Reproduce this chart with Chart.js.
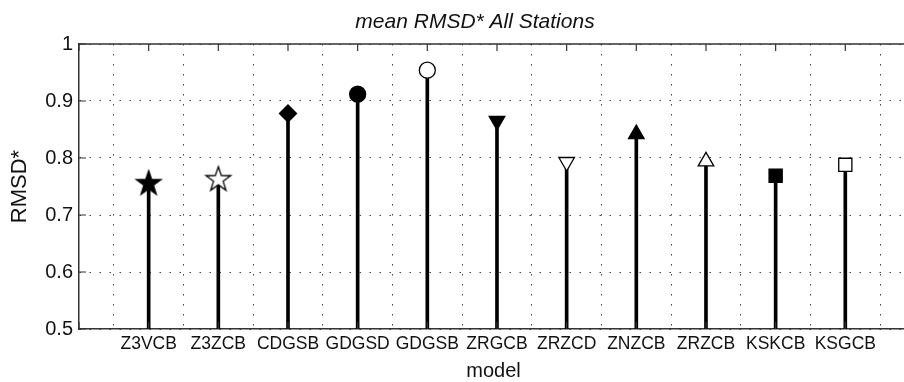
<!DOCTYPE html>
<html>
<head>
<meta charset="utf-8">
<script src="https://cdn.jsdelivr.net/npm/chart.js@4.4.1/dist/chart.umd.min.js"></script>
<style>
  html, body { margin: 0; padding: 0; overflow: hidden; background: #fff; }
  #wrap { width: 948px; height: 382px; }
</style>
</head>
<body>
<div id="wrap"><canvas id="rmsdChart"></canvas></div>
<script>
const models = ['Z3VCB', 'Z3ZCB', 'CDGSB', 'GDGSD', 'GDGSB', 'ZRGCB', 'ZRZCD', 'ZNZCB', 'ZRZCB', 'KSKCB', 'KSGCB'];
const rmsd = [0.755, 0.762, 0.878, 0.912, 0.954, 0.865, 0.793, 0.842, 0.794, 0.769, 0.788];
const yTicks = [0.5, 0.6, 0.7, 0.8, 0.9, 1];

// one marker per model: shape + filled/open
const markers = [
    ['star', true], ['star', false], ['diamond', true], ['circle', true], ['circle', false],
    ['down', true], ['down', false], ['up', true], ['up', false], ['square', true], ['square', false]
];

Chart.defaults.font.family = '"Liberation Sans", Arial, sans-serif';
Chart.defaults.color = '#111';

function makeStar(filled) {
    const R = 13, r = 5.1, size = 32;
    const c = document.createElement('canvas');
    c.width = c.height = size;
    const g = c.getContext('2d');
    g.beginPath();
    for (let k = 0; k < 10; k++) {
        const rad = k % 2 ? r : R;
        const a = -Math.PI / 2 + k * Math.PI / 5;
        const px = size / 2 + rad * Math.cos(a);
        const py = size / 2 + rad * Math.sin(a);
        if (k) g.lineTo(px, py); else g.moveTo(px, py);
    }
    g.closePath();
    g.fillStyle = filled ? '#000' : '#fff';
    g.fill();
    g.lineWidth = 1.3;
    g.strokeStyle = '#000';
    g.stroke();
    return c;
}

const starFilled = makeStar(true);
const starOpen = makeStar(false);

const shapeStyle = {
    star:    { style: null, radius: 13, rotation: 0 },
    diamond: { style: 'rectRot', radius: 8.5, rotation: 0 },
    circle:  { style: 'circle', radius: 8, rotation: 0 },
    down:    { style: 'triangle', radius: 9, rotation: 180 },
    up:      { style: 'triangle', radius: 9, rotation: 0 },
    square:  { style: 'rect', radius: 9.3, rotation: 0 }
};

const pointStyles = markers.map(([s, f]) => s === 'star' ? (f ? starFilled : starOpen) : shapeStyle[s].style);
const pointRadii = markers.map(([s]) => shapeStyle[s].radius);
const pointRot = markers.map(([s]) => shapeStyle[s].rotation);
const pointFill = markers.map(([, f]) => f ? '#000' : '#fff');

const points = models.map((m, i) => ({ x: i + 1, y: rmsd[i] }));

// frame on top edge and inward tick marks; title centred on the full axes width
const axisFrame = {
    id: 'axisFrame',
    afterLayout(chart) {
        if (chart.titleBlock) chart.titleBlock.right = chart.chartArea.right + 42;
    },
    afterDraw(chart) {
        const { ctx, chartArea: a, scales: { x, y } } = chart;
        ctx.save();
        ctx.strokeStyle = '#333';
        ctx.lineWidth = 1.5;
        ctx.beginPath();
        ctx.moveTo(a.left, a.top);
        ctx.lineTo(a.right, a.top);
        ctx.stroke();
        ctx.lineWidth = 1.2;
        ctx.beginPath();
        x.ticks.forEach(t => {
            const px = x.getPixelForValue(t.value);
            ctx.moveTo(px, a.top); ctx.lineTo(px, a.top + 7);
            ctx.moveTo(px, a.bottom); ctx.lineTo(px, a.bottom - 7);
        });
        y.ticks.forEach(t => {
            const py = y.getPixelForValue(t.value);
            ctx.moveTo(a.left, py); ctx.lineTo(a.left + 7, py);
        });
        ctx.stroke();
        ctx.restore();
    }
};

new Chart(document.getElementById('rmsdChart'), {
    type: 'bar',
    data: {
        datasets: [
            {
                type: 'scatter',
                data: points,
                order: 0,
                pointStyle: pointStyles,
                radius: pointRadii,
                rotation: pointRot,
                backgroundColor: pointFill,
                borderColor: '#000',
                borderWidth: 1.3
            },
            {
                type: 'bar',
                data: points,
                order: 1,
                backgroundColor: '#000',
                barThickness: 3,
                borderWidth: 0
            }
        ]
    },
    options: {
        responsive: true,
        maintainAspectRatio: false,
        animation: false,
        layout: { padding: { right: 40 } },
        scales: {
            x: {
                type: 'linear',
                min: 0,
                max: 11.9,
                offset: false,
                afterBuildTicks: s => { s.ticks = Array.from({ length: 12 }, (_, i) => ({ value: i })); },
                afterFit: s => { s.height = 53; },
                ticks: {
                    autoSkip: false,
                    maxRotation: 0,
                    padding: 5,
                    font: { size: 17.5 },
                    callback: v => models[v - 1] || ''
                },
                grid: { drawTicks: false, color: '#444', lineWidth: 1 },
                border: { color: '#333', width: 1.5, dash: [1.5, 8.5] },
                title: {
                    display: true,
                    text: 'model',
                    font: { size: 20, lineHeight: 1 },
                    padding: { top: 1, bottom: 1 }
                }
            },
            y: {
                min: 0.5,
                max: 1,
                afterBuildTicks: s => { s.ticks = yTicks.map(v => ({ value: v })); },
                afterFit: s => { s.width = 79; },
                ticks: {
                    padding: 6,
                    font: { size: 20 },
                    callback: v => String(parseFloat(v.toFixed(1)))
                },
                grid: { drawTicks: false, color: '#444', lineWidth: 1 },
                border: { color: '#333', width: 1.5, dash: [1.5, 8.5] },
                title: {
                    display: true,
                    text: 'RMSD*',
                    font: { size: 22, lineHeight: 1 },
                    padding: { top: 9, bottom: 0 }
                }
            }
        },
        plugins: {
            legend: { display: false },
            tooltip: { enabled: false },
            title: {
                display: true,
                text: 'mean RMSD* All Stations',
                font: { size: 21, style: 'italic', weight: 'normal', lineHeight: 1 },
                color: '#111',
                padding: { top: 12, bottom: 11 }
            }
        }
    },
    plugins: [axisFrame]
});
</script>
</body>
</html>
